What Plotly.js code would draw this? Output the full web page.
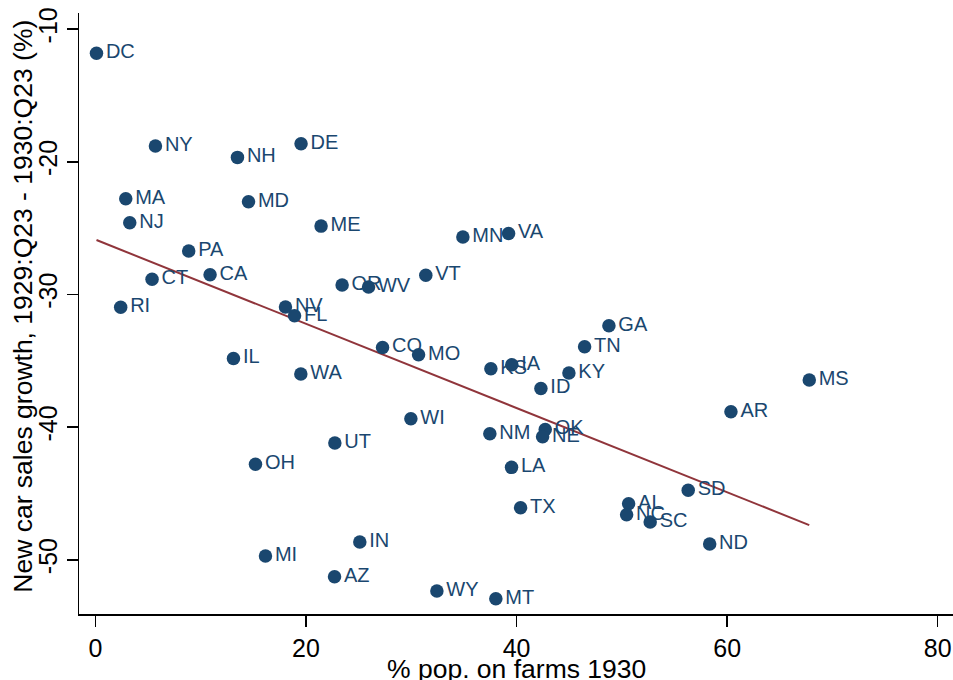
<!DOCTYPE html>
<html>
<head>
<meta charset="utf-8">
<script src="https://cdn.plot.ly/plotly-3.0.1.min.js"></script>
<style>html,body{margin:0;padding:0;background:#fff;}#chart{width:953px;height:680px;}</style>
</head>
<body>
<div id="chart"></div>
<script>
// State labels
const states = ["DC","NY","NH","DE","MA","MD","NJ","ME","MN","VA",
  "OR","WV","VT","CO","MO","KS","IA","ID","KY","TN",
  "GA","WI","NM","OK","NE","LA","TX","AL","NC","SC",
  "SD","ND","AR","MS","PA","CA","CT","RI","NV","FL",
  "IL","WA","OH","UT","MI","IN","AZ","WY","MT"];
// % population on farms, 1930
const farmPct = [0.10,5.70,13.49,19.53,2.88,14.54,3.26,21.43,34.90,39.24,
  23.43,25.94,31.38,27.27,30.69,37.56,39.55,42.31,44.97,46.46,
  48.77,29.96,37.46,42.72,42.47,39.52,40.38,50.64,50.45,52.69,
  56.30,58.34,60.36,67.80,8.86,10.89,5.38,2.40,18.05,18.91,
  13.11,19.51,15.20,22.74,16.15,25.11,22.71,32.43,38.03];
// New car sales growth, 1929:Q23 - 1930:Q23 (%)
const carGrowth = [-11.83,-18.82,-19.67,-18.64,-22.79,-23.01,-24.60,-24.85,-25.67,-25.40,
  -29.29,-29.44,-28.56,-33.99,-34.54,-35.60,-35.30,-37.08,-35.92,-33.94,
  -32.36,-39.37,-40.50,-40.17,-40.72,-43.03,-46.07,-45.77,-46.60,-47.15,
  -44.76,-48.81,-38.84,-36.45,-26.73,-28.51,-28.86,-30.97,-30.95,-31.60,
  -34.82,-36.00,-42.80,-41.20,-49.71,-48.66,-51.27,-52.35,-52.93];
// Fitted line endpoints
const fitX = [0.10, 67.80];
const fitY = [-25.90, -47.38];
// Ticks
const xTicks = [0, 20, 40, 60, 80];
const yTicks = [-10, -20, -30, -40, -50];
// Axis titles
const xTitle = "% pop. on farms 1930";
const yTitle = "New car sales growth, 1929:Q23 - 1930:Q23 (%)";

const FONT = "Liberation Sans, Arial, Helvetica, sans-serif";
const NAVY = "#1a476f";
const MAROON = "#90353b";

const traces = [
  {
    x: fitX, y: fitY, type: "scatter", mode: "lines",
    line: {color: MAROON, width: 2}, hoverinfo: "skip", showlegend: false
  },
  {
    x: farmPct, y: carGrowth, text: states, type: "scatter", mode: "markers+text",
    textposition: "middle right",
    textfont: {family: FONT, size: 20, color: NAVY},
    marker: {color: NAVY, size: 13.5},
    cliponaxis: false, showlegend: false
  }
];

const titleFont = {family: FONT, size: 26.5, color: "#000"};

const layout = {
  width: 953, height: 680,
  margin: {l: 79, r: 0, t: 13, b: 66, pad: 0},
  paper_bgcolor: "#ffffff", plot_bgcolor: "#ffffff",
  font: {family: FONT, color: "#000"},
  showlegend: false,
  xaxis: {
    range: [-1.56, 81.45], tickvals: xTicks, ticktext: xTicks.map(String),
    showline: true, linecolor: "#000", linewidth: 1.5,
    ticks: "outside", ticklen: 11, tickwidth: 1.5, tickcolor: "#000",
    showgrid: false, zeroline: false,
    tickfont: {family: FONT, size: 25, color: "#000"},
    automargin: false
  },
  yaxis: {
    range: [-54.08, -8.79], tickvals: yTicks, ticktext: yTicks.map(String),
    showline: true, linecolor: "#000", linewidth: 1.5,
    ticks: "outside", ticklen: 11, tickwidth: 1.5, tickcolor: "#000",
    showgrid: false, zeroline: false, tickangle: -90,
    tickfont: {family: FONT, size: 25, color: "#000"},
    automargin: false
  },
  annotations: [
    {text: xTitle, xref: "paper", yref: "paper", x: 0.5, y: -0.0915,
     xanchor: "center", yanchor: "middle", showarrow: false, font: titleFont},
    {text: yTitle, xref: "paper", yref: "paper", x: -0.0644, y: 0.5125,
     xanchor: "center", yanchor: "middle", textangle: -90, showarrow: false, font: titleFont}
  ]
};

Plotly.newPlot("chart", traces, layout, {staticPlot: true, displayModeBar: false});
</script>
</body>
</html>
